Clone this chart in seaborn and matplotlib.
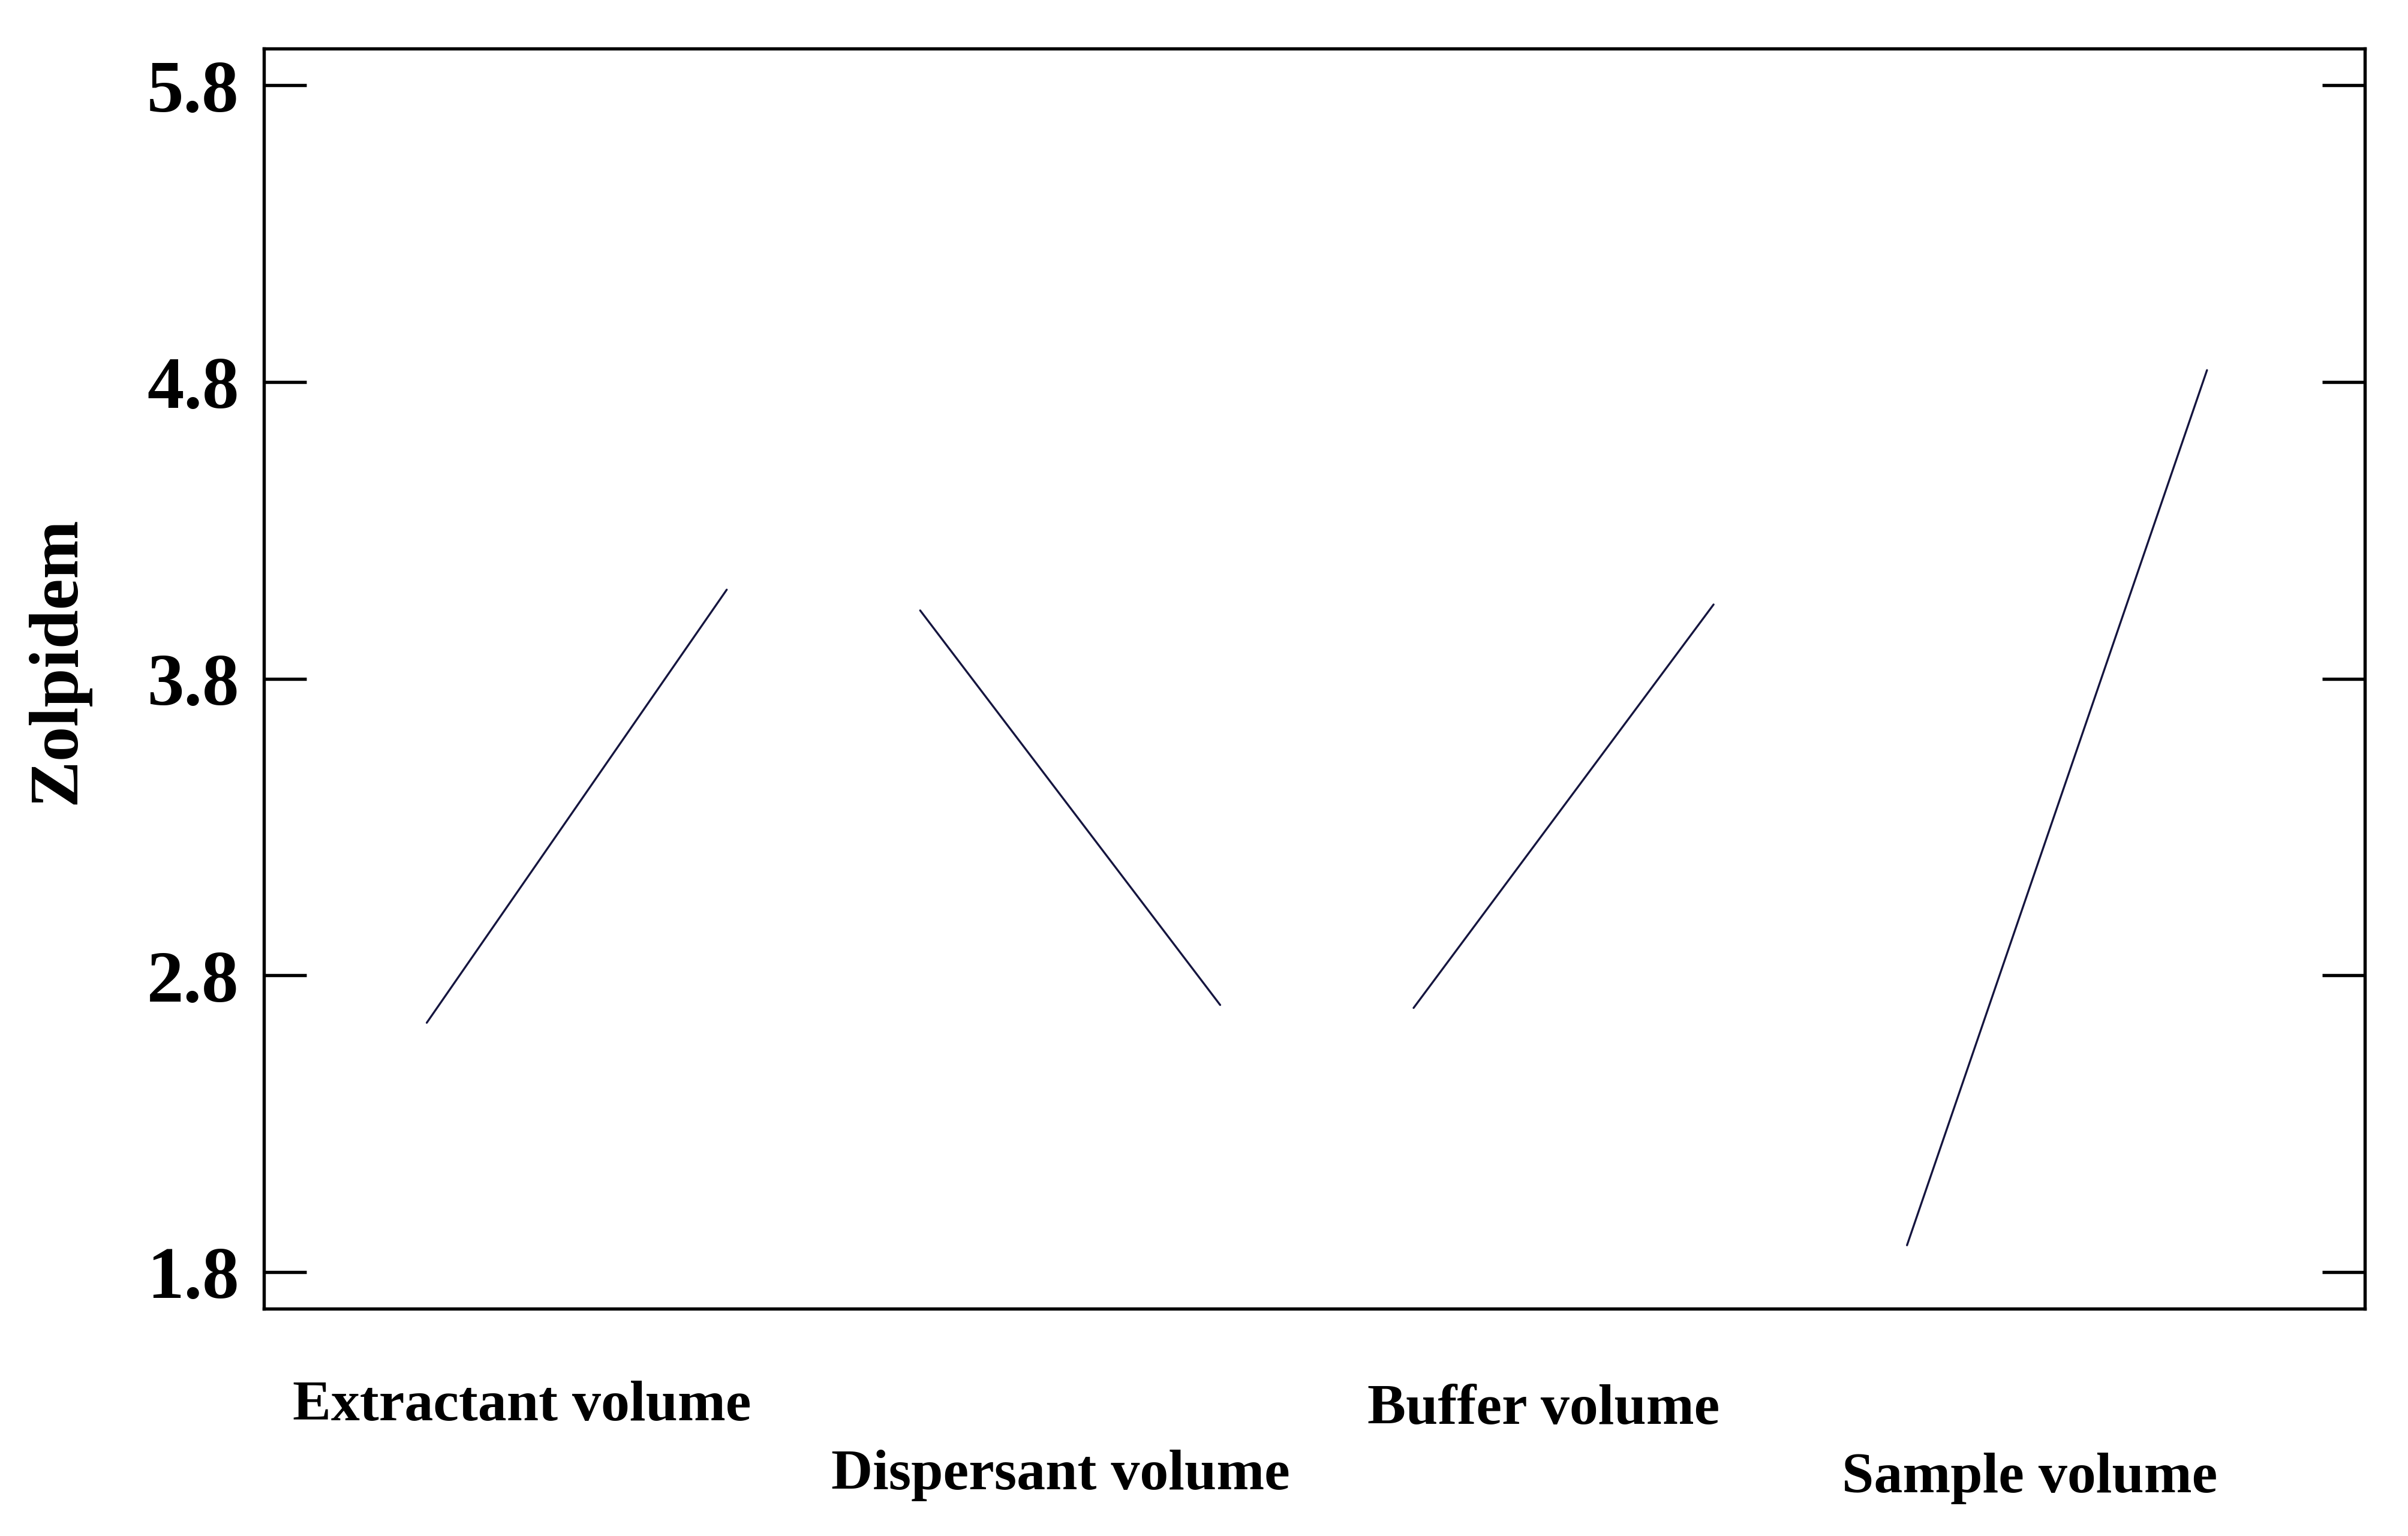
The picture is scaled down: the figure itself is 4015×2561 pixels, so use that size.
import numpy as np
import pandas as pd
import matplotlib
matplotlib.use("Agg")
import matplotlib.pyplot as plt
import matplotlib.transforms as mtransforms
import seaborn as sns

# ---- data ----
factors = ["Extractant volume", "Dispersant volume", "Buffer volume", "Sample volume"]
low_level_means = [2.64, 4.03, 2.69, 1.89]
high_level_means = [4.10, 2.70, 4.05, 4.84]
y_ticks = [1.8, 2.8, 3.8, 4.8, 5.8]
y_tick_labels = ["1.8", "2.8", "3.8", "4.8", "5.8"]
y_label = "Zolpidem"

# ---- layout parameters ----
seg_width = 0.608          # horizontal extent of each factor's segment (in factor pitch units)
label_offsets = [0.193, 0.285, 0.263, 0.249]   # label centre relative to factor start
label_rows = [-0.077, -0.132, -0.080, -0.134]  # axes-fraction y of each label

rows = []
for i, f in enumerate(factors):
    rows.append({"factor": f, "pos": i, "value": low_level_means[i]})
    rows.append({"factor": f, "pos": i + seg_width, "value": high_level_means[i]})
df = pd.DataFrame(rows)

sns.set_style("white")
plt.rcParams["font.family"] = ["Liberation Serif", "DejaVu Serif"]
plt.rcParams["font.weight"] = "bold"
plt.rcParams["text.color"] = "black"
plt.rcParams["axes.labelcolor"] = "black"
plt.rcParams["ytick.color"] = "black"

fig = plt.figure(figsize=(4015 / 300, 2562 / 300), dpi=300)
ax = fig.add_axes([0.1096, 0.1479, 0.9821 - 0.1096, 0.968 - 0.1479])

sns.lineplot(data=df, x="pos", y="value", units="factor", estimator=None,
             color="#15153f", linewidth=0.8, ax=ax, legend=False)

ax.set_xlim(-0.33, 3.928)
ax.set_ylim(1.676, 5.924)
ax.set_xticks([])
ax.set_yticks(y_ticks)
ax.set_yticklabels(y_tick_labels, fontsize=29.5, fontweight="bold", color="black")
ax.tick_params(axis="y", which="both", direction="in", length=17, width=1.3,
               left=True, right=True, labelleft=True, labelright=False,
               pad=10, colors="black")
for sp in ax.spines.values():
    sp.set_visible(True)
    sp.set_color("black")
    sp.set_linewidth(1.3)

ax.set_xlabel("")
ax.set_ylabel(y_label, fontsize=28, fontweight="bold", va="center", color="black")
ax.yaxis.set_label_coords(-0.098, 0.515)

trans = mtransforms.blended_transform_factory(ax.transData, ax.transAxes)
for i, f in enumerate(factors):
    ax.text(i + label_offsets[i], label_rows[i], f, transform=trans,
            ha="center", va="center", fontsize=23, fontweight="bold",
            color="black", clip_on=False)

fig.savefig("out.png", dpi=300, facecolor="white")
